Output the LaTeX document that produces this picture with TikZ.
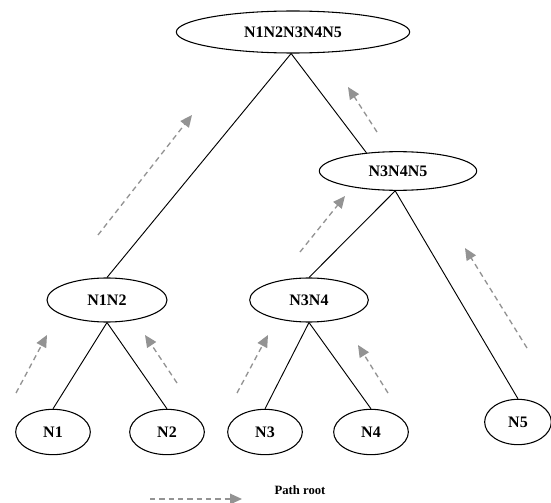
\documentclass[tikz,border=0pt]{standalone}
\usepackage{fontspec}
\setmainfont{Liberation Serif}
\usetikzlibrary{shapes.geometric,arrows.meta}

\tikzset{
  tnode/.style={draw,ellipse,line width=0.8pt,inner sep=0pt,font=\fontsize{12}{14}\selectfont\bfseries},
  edge/.style={line width=0.7pt},
  flow/.style={draw=gray!85,line width=1pt,dash pattern=on 4pt off 3pt,-{Triangle[length=9pt,width=8pt]}}
}

\begin{document}
\begin{tikzpicture}[x=0.75pt,y=0.75pt,yscale=-1,xscale=1]
        \useasboundingbox (0,0) rectangle (551,503);

        % Nodes
        \node [tnode,minimum width=175,minimum height=31.5] (n12345) at (293,32) {N1N2N3N4N5};
        \node [tnode,minimum width=118,minimum height=29] (n345) at (398,171) {N3N4N5};
        \node [tnode,minimum width=90,minimum height=33] (n12) at (107,300) {N1N2};
        \node [tnode,minimum width=89,minimum height=33] (n34) at (309,300) {N3N4};
        \node [tnode,minimum width=56,minimum height=34] (n1) at (53,432) {N1};
        \node [tnode,minimum width=56,minimum height=34] (n2) at (167,432) {N2};
        \node [tnode,minimum width=56,minimum height=34] (n3) at (265,432) {N3};
        \node [tnode,minimum width=56,minimum height=34] (n4) at (371,432) {N4};
        \node [tnode,minimum width=50,minimum height=34] (n5) at (518,422) {N5};

        % Tree edges
        \draw [edge] (n12345.265) -- (n12.north);
        \draw [edge] (n12345.265) -- (n345.150);
        \draw [edge] (n345.262) -- (n34.north);
        \draw [edge] (n345.262) -- (n5.north);
        \draw [edge] (n12.south) -- (n1.north);
        \draw [edge] (n12.south) -- (n2.north);
        \draw [edge] (n34.south) -- (n3.north);
        \draw [edge] (n34.south) -- (n4.north);

        % Path root arrows
        \foreach \xa/\ya/\xb/\yb in {98/235/192/115, 377/132/348/87, 300/252/345/196,
            527/348/465/248, 16/393/47/335, 177/383/145/335, 237/393/268/335, 388/393/358/345}
          \draw [flow] (\xa,\ya) -- (\xb,\yb);

        % Legend
        \draw [flow] (150,499) -- (242,499);
        \node [font=\fontsize{9.5}{11}\selectfont\bfseries] (legend) at (300,490) {Path root};
\end{tikzpicture}
\end{document}
